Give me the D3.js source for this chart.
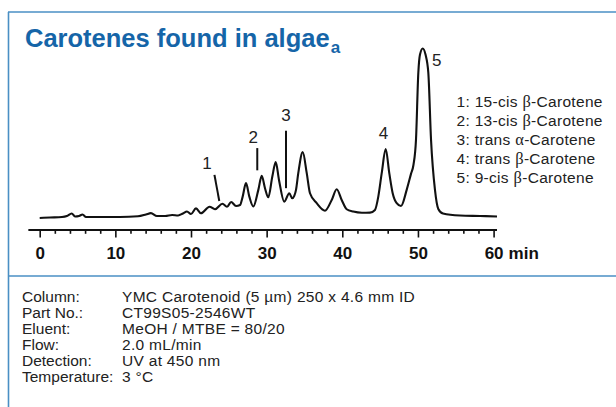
<!DOCTYPE html>
<html>
<head>
<meta charset="utf-8">
<script src="https://cdn.jsdelivr.net/npm/d3@7"></script>
<style>
  html, body { margin: 0; padding: 0; background: #fff; }
  svg { display: block; font-family: "Liberation Sans", Arial, Helvetica, sans-serif; }
</style>
</head>
<body>
<svg id="chart" width="616" height="407"></svg>
<script>
// Chromatogram trace: retention time (min) and detector response (relative, peak 5 = 100)
const retentionTime = [
  0.0, 1.36, 2.95, 3.6, 4.23, 4.67, 5.2, 5.66, 6.12, 7.97, 10.6, 13.0, 14.05, 14.7, 15.5,
  16.6, 17.5, 18.3, 18.94, 19.47, 20.0, 20.66, 21.32, 22.45, 23.17, 24.16, 24.76, 25.31,
  25.95, 26.48, 26.83, 27.27, 27.71, 28.24, 28.9, 29.35, 29.78, 30.22, 30.75, 31.2, 31.63,
  32.33, 32.99, 33.39, 33.65, 33.88, 34.18, 34.77, 35.3, 35.73, 36.62, 37.71, 38.6, 39.26,
  39.92, 40.58, 41.45, 42.6, 43.66, 44.32, 44.76, 45.21, 45.74, 46.21, 46.66, 47.19, 47.76,
  48.51, 49.08, 49.41, 49.74, 50.05, 50.27, 50.63, 51.0, 51.37, 51.73, 52.25, 52.69, 53.31,
  55.56, 58.2, 60.45
];
const response = [
  -0.6, -0.3, 0, 0.6, 2.1, 0.3, 0.6, 1.5, 0, 0, 0, 0.4, 1.5, 2.3, 0.6,
  0.6, 1.2, 0.9, 2.1, 3.3, 1.8, 5.1, 2.2, 6.1, 4.6, 7.9, 6.1, 8.9,
  6.5, 7.1, 12.1, 20.1, 12.1, 6.25, 16.1, 24.4, 17.1, 11.7, 24.0, 32.6, 22.0,
  9.1, 14.1, 11.1, 12.5, 16.1, 26.0, 38.5, 26.0, 14.1, 8.2, 3.75, 10.1, 16.5,
  10.1, 4.6, 3.2, 2.5, 2.6, 4.2, 12.1, 26.0, 40.3, 26.0, 14.1, 8.2, 6.5,
  16.1, 25.6, 31.0, 45.8, 85.7, 96.4, 100, 96.4, 85.7, 45.8, 16.1, 4.8, 2.1,
  0.9, 0.6, 0.3
];

// Axis ticks (min)
const majorTicks = [0, 10, 20, 30, 40, 50, 60];
const minorTicks = d3.range(0, 61, 2);
const axisUnit = "min";

// Peak numbers and where they are written
const peakLabels = ["1", "2", "3", "4", "5"];
const peakLabelTime = [22.1, 28.24, 32.54, 45.43, 52.48];
const peakLabelResponse = [32, 47.8, 60.7, 49.8, 93];

// Indicator strokes for the minor peaks 1-3 (start / end)
const markerTime = [[23.1, 23.74], [28.76, 28.76], [32.56, 32.56]];
const markerResponse = [[25, 9.5], [40.9, 27.7], [51.2, 17.1]];

// Peak identification list: text before the Greek letter, the letter, text after
const legendPrefix = ["1: 15-cis ", "2: 13-cis ", "3: trans ", "4: trans ", "5: 9-cis "];
const legendGreek = ["β", "β", "α", "β", "β"];
const legendSuffix = ["-Carotene", "-Carotene", "-Carotene", "-Carotene", "-Carotene"];

// Method conditions
const conditionNames = ["Column:", "Part No.:", "Eluent:", "Flow:", "Detection:", "Temperature:"];
const conditionValues = [
  "YMC Carotenoid (5 µm) 250 x 4.6 mm ID",
  "CT99S05-2546WT",
  "MeOH / MTBE = 80/20",
  "2.0 mL/min",
  "UV at 450 nm",
  "3 °C"
];

const titleText = "Carotenes found in algae";
const titleSub = "a";

// ---------------------------------------------------------------
const svg = d3.select("#chart");
const W = 616, H = 407;
const frameColor = "#4a8fc4";
const titleColor = "#1565a8";
const textColor = "#222";

// Panel frame: top rule, left rule and divider above the conditions
const frame = svg.append("g").attr("stroke", frameColor).attr("stroke-width", 1.6).attr("fill", "none");
frame.append("line").attr("x1", 8).attr("x2", W).attr("y1", 12).attr("y2", 12);
frame.append("line").attr("x1", 8.5).attr("x2", 8.5).attr("y1", 12).attr("y2", H);
frame.append("line").attr("x1", 8).attr("x2", W).attr("y1", 276).attr("y2", 276);

// Title with subscript
const title = svg.append("text")
  .attr("x", 25).attr("y", 47)
  .attr("fill", titleColor)
  .attr("font-weight", "bold")
  .attr("font-size", 25.5)
  .text(titleText);
title.append("tspan")
  .attr("font-size", 17)
  .attr("dx", 1)
  .attr("dy", 6)
  .text(titleSub);

// Scales
const x = d3.scaleLinear().domain([0, 60]).range([39.7, 493.6]);
const y = d3.scaleLinear().domain([0, 100]).range([217, 48.5]);
const axisY = 230;

// Time axis
const axisG = svg.append("g").attr("transform", `translate(0,${axisY})`);
axisG.append("line")
  .attr("x1", x(-1.5)).attr("x2", x(60.45))
  .attr("y1", 0).attr("y2", 0)
  .attr("stroke", "#111").attr("stroke-width", 2.2);

const axis = d3.axisBottom(x)
  .tickValues(minorTicks)
  .tickSize(3.8)
  .tickSizeOuter(0)
  .tickFormat(d => majorTicks.includes(d) ? d : "");
axisG.append("g").call(axis).call(g => {
  g.select(".domain").remove();
  g.selectAll(".tick line")
    .attr("stroke", "#111")
    .attr("stroke-width", 1.6)
    .attr("y2", d => majorTicks.includes(d) ? 7.5 : 3.8);
  g.selectAll(".tick text")
    .attr("fill", "#111")
    .attr("font-size", 17)
    .attr("font-weight", "bold")
    .attr("font-family", "Liberation Sans, Arial, sans-serif")
    .attr("y", 28.5)
    .attr("dy", 0);
});
axisG.append("text")
  .attr("x", x(60) + 15).attr("y", 28.5)
  .attr("fill", "#111")
  .attr("font-size", 17)
  .attr("font-weight", "bold")
  .text(axisUnit);

// Chromatogram trace
const trace = retentionTime.map((t, i) => [t, response[i]]);
svg.append("path")
  .datum(trace)
  .attr("fill", "none")
  .attr("stroke", "#111")
  .attr("stroke-width", 2.1)
  .attr("stroke-linejoin", "round")
  .attr("d", d3.line().x(d => x(d[0])).y(d => y(d[1])).curve(d3.curveMonotoneX));

// Peak indicator strokes
svg.append("g").selectAll("line")
  .data(markerTime)
  .join("line")
  .attr("x1", (d) => x(d[0])).attr("x2", (d) => x(d[1]))
  .attr("y1", (d, i) => y(markerResponse[i][0]))
  .attr("y2", (d, i) => y(markerResponse[i][1]))
  .attr("stroke", "#111").attr("stroke-width", 2);

// Peak numbers
svg.append("g").selectAll("text")
  .data(peakLabels)
  .join("text")
  .attr("x", (d, i) => x(peakLabelTime[i]))
  .attr("y", (d, i) => y(peakLabelResponse[i]))
  .attr("dy", "0.36em")
  .attr("text-anchor", "middle")
  .attr("font-size", 17)
  .attr("fill", "#222")
  .text(d => d);

// Peak identification list
const legend = svg.append("g").attr("font-size", 15.5).attr("letter-spacing", 0.3).attr("fill", textColor);
legendPrefix.forEach((p, i) => {
  const t = legend.append("text").attr("x", 456.5).attr("y", 107 + i * 19);
  t.append("tspan").text(p);
  t.append("tspan").attr("font-family", "Liberation Serif, Times New Roman, serif").attr("font-size", 16.5).text(legendGreek[i]);
  t.append("tspan").text(legendSuffix[i]);
});

// Conditions block
const cond = svg.append("g").attr("font-size", 15.5).attr("fill", textColor);
conditionNames.forEach((n, i) => {
  cond.append("text").attr("x", 22).attr("y", 301.5 + i * 16).text(n);
  cond.append("text").attr("x", 122).attr("y", 301.5 + i * 16)
    .attr("letter-spacing", 0.3).text(conditionValues[i]);
});
</script>
</body>
</html>
